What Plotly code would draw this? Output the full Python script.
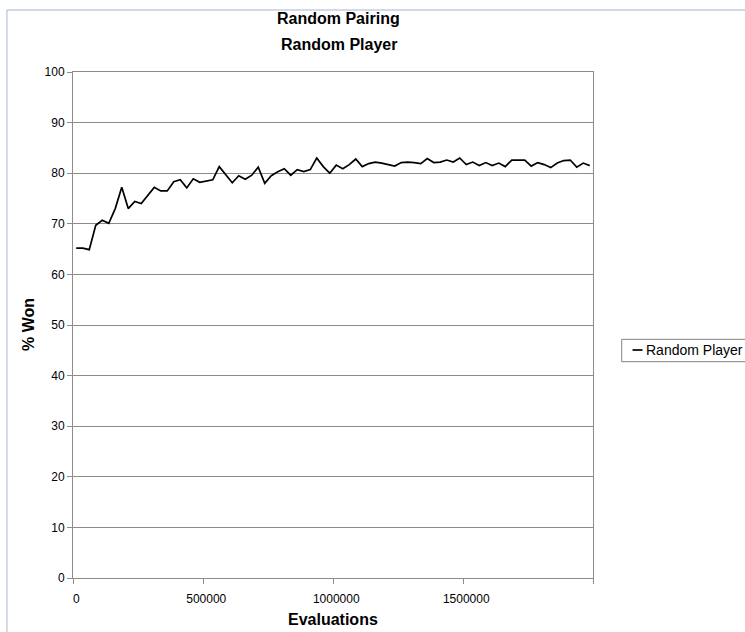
import plotly.graph_objects as go

# Sampling grid: one measurement every 25000 evaluations
evaluations = list(range(0, 2000000, 25000))

# Percentage of games won by the evolved player against the random player
pct_won = [
    65.2, 65.2, 64.9, 69.7, 70.7, 70.1, 73.0, 77.2, 73.0, 74.4,
    74.0, 75.5, 77.2, 76.5, 76.5, 78.3, 78.7, 77.1, 78.9, 78.2,
    78.5, 78.7, 81.3, 79.8, 78.1, 79.5, 78.8, 79.6, 81.2, 78.0,
    79.5, 80.3, 80.9, 79.6, 80.7, 80.3, 80.7, 83.0, 81.3, 80.0,
    81.6, 80.9, 81.7, 82.8, 81.3, 81.9, 82.2, 82.0, 81.7, 81.4,
    82.1, 82.2, 82.1, 81.9, 82.9, 82.1, 82.2, 82.6, 82.2, 83.0,
    81.7, 82.2, 81.5, 82.1, 81.5, 82.0, 81.3, 82.6, 82.6, 82.6,
    81.4, 82.1, 81.7, 81.1, 82.0, 82.5, 82.6, 81.2, 82.0, 81.5,
]

x_tick_labels = [0, 500000, 1000000, 1500000]
y_ticks = list(range(0, 101, 10))

series_name = "Random Player"
title_lines = ["Random Pairing", "Random Player"]

FONT = "Liberation Sans, Arial, sans-serif"
GRID = "#8c8c8c"
FRAME = "#a3b6d1"

step = evaluations[1] - evaluations[0]

fig = go.Figure()
fig.add_trace(go.Scatter(
    x=evaluations, y=pct_won, mode="lines", name=series_name,
    line=dict(color="black", width=1.7), showlegend=False,
))

fig.update_layout(
    width=745, height=632,
    margin=dict(l=73, r=152, t=72, b=54),
    paper_bgcolor="white", plot_bgcolor="white",
    font=dict(family=FONT, size=12, color="black"),
    xaxis=dict(
        range=[evaluations[0] - step / 2, evaluations[-1] + step / 2],
        tickvals=x_tick_labels, ticktext=[str(v) for v in x_tick_labels],
        ticks="outside", ticklen=10, tickcolor="rgba(0,0,0,0)",
        showgrid=False, zeroline=False, automargin=False,
        showline=True, linecolor=GRID, linewidth=1, mirror=True,
        minor=dict(tick0=evaluations[0] - step / 2, dtick=500000,
                   ticks="outside", ticklen=5, tickcolor=GRID, showgrid=False),
        tickfont=dict(size=12),
    ),
    yaxis=dict(
        range=[0, 100], tickvals=y_ticks,
        ticks="outside", ticklen=5, tickcolor=GRID,
        showgrid=True, gridcolor=GRID, gridwidth=1, zeroline=False,
        automargin=False,
        showline=True, linecolor=GRID, linewidth=1, mirror=True,
        tickfont=dict(size=12),
    ),
)

# Chart title and axis titles
for line_text, y_pos in zip(title_lines, [1.1048, 1.0543]):
    fig.add_annotation(text="<b>%s</b>" % line_text, xref="paper", yref="paper",
                       x=0.5115, y=y_pos, xanchor="center", yanchor="middle",
                       showarrow=False, font=dict(family=FONT, size=16, color="black"))
fig.add_annotation(text="<b>Evaluations</b>", xref="paper", yref="paper",
                   x=0.5, y=-0.083, xanchor="center", yanchor="middle",
                   showarrow=False, font=dict(family=FONT, size=16, color="black"))
fig.add_annotation(text="<b>% Won</b>", xref="paper", yref="paper",
                   x=-0.0865, y=0.5, xanchor="center", yanchor="middle", textangle=-90,
                   showarrow=False, font=dict(family=FONT, size=16, color="black"))

# Chart frame (left and top edges fall inside the page)
fig.add_shape(type="rect", xref="paper", yref="paper",
              x0=-0.127, x1=1.33, y0=-0.16, y1=1.1225,
              line=dict(color=FRAME, width=1), layer="below")

# Legend box with a short line key
fig.add_shape(type="rect", xref="paper", yref="paper",
              x0=1.0552, x1=1.33, y0=0.4275, y1=0.4717,
              line=dict(color="#808080", width=1), fillcolor="white")
fig.add_shape(type="line", xref="paper", yref="paper",
              x0=1.0760, x1=1.0952, y0=0.4506, y1=0.4506,
              line=dict(color="black", width=1.7))
fig.add_annotation(text=series_name, xref="paper", yref="paper",
                   x=1.0981, y=0.4506, xanchor="left", yanchor="middle",
                   showarrow=False, font=dict(family=FONT, size=14, color="black"))

fig.write_html("out.html")
